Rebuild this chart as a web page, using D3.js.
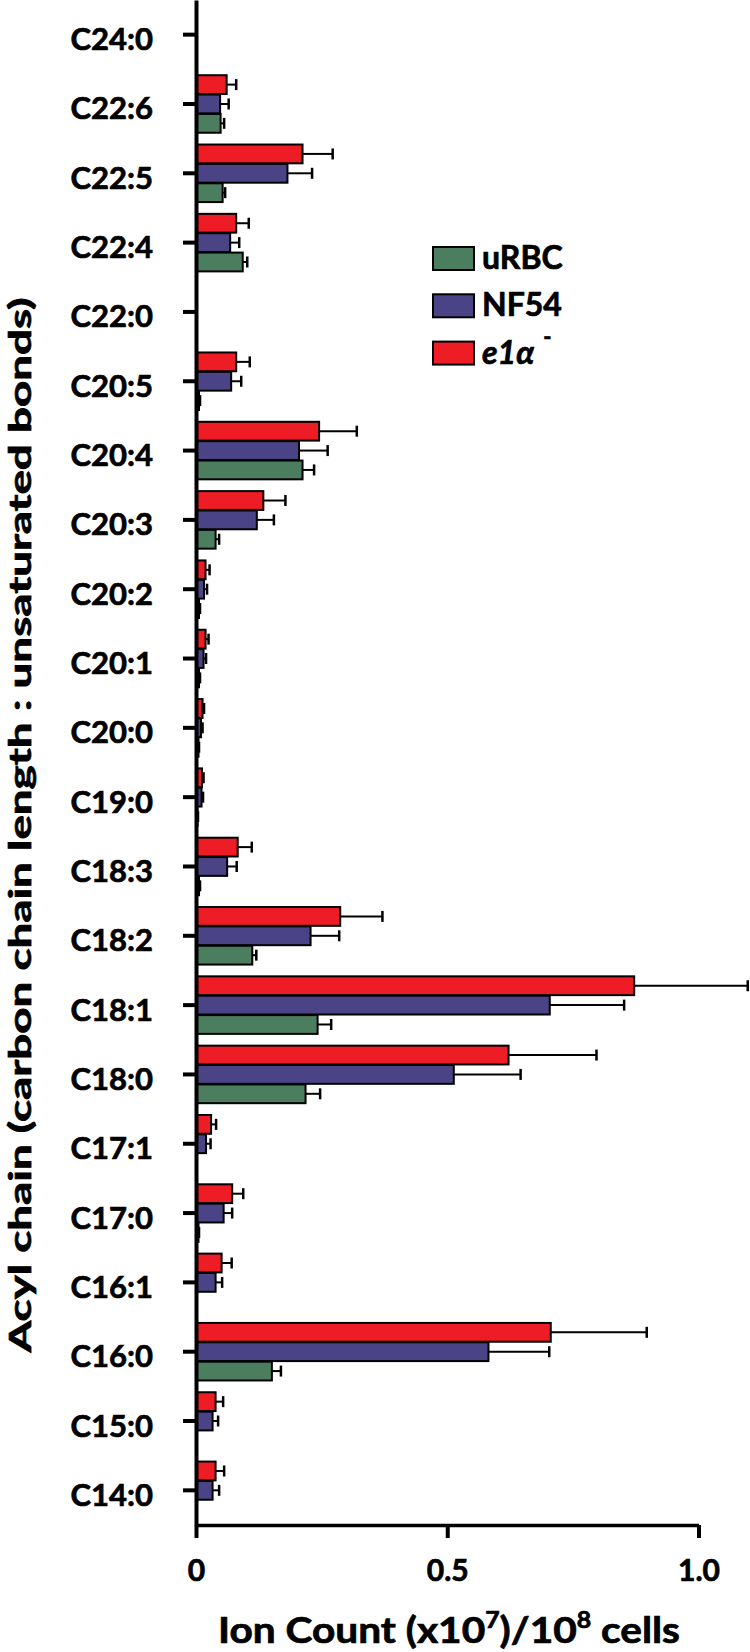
<!DOCTYPE html>
<html><head><meta charset="utf-8">
<script src="https://cdn.jsdelivr.net/npm/d3@7"></script>
<style>body{margin:0;background:#fff} text{font-family:Lato,"Open Sans",sans-serif;font-weight:700;fill:#000;stroke:#000;stroke-width:0.7px}</style>
</head><body>
<svg id="c" width="750" height="1652"></svg>
<script>
const categories = ["C24:0","C22:6","C22:5","C22:4","C22:0","C20:5","C20:4","C20:3","C20:2","C20:1","C20:0","C19:0","C18:3","C18:2","C18:1","C18:0","C17:1","C17:0","C16:1","C16:0","C15:0","C14:0"];
const seriesNames = ["uRBC","NF54","e1α"];
const uRBC    = [0.002,0.049,0.053,0.093,0,0.006,0.212,0.039,0.006,0.006,0.005,0.003,0.006,0.112,0.242,0.218,0.002,0.005,0,0.151,0,0];
const uRBCErr = [0,0.007,0.005,0.009,0,0.002,0.023,0.007,0.002,0.002,0.001,0.001,0.002,0.008,0.027,0.029,0,0.001,0,0.018,0,0];
const NF54    = [0.002,0.048,0.182,0.068,0,0.070,0.205,0.121,0.016,0.015,0.010,0.011,0.062,0.228,0.704,0.513,0.020,0.055,0.039,0.582,0.033,0.033];
const NF54Err = [0,0.017,0.049,0.018,0,0.020,0.057,0.034,0.006,0.005,0.003,0.003,0.019,0.057,0.148,0.133,0.009,0.017,0.013,0.121,0.011,0.013];
const e1a     = [0.002,0.061,0.212,0.080,0,0.080,0.245,0.134,0.019,0.019,0.013,0.012,0.083,0.287,0.872,0.622,0.030,0.072,0.051,0.706,0.039,0.039];
const e1aErr  = [0,0.019,0.060,0.025,0,0.027,0.075,0.044,0.008,0.006,0.003,0.003,0.028,0.084,0.226,0.175,0.010,0.022,0.020,0.191,0.015,0.017];
const xTicks = [0, 0.5, 1.0];
const xTickLabels = ["0","0.5","1.0"];
const colors = {"uRBC":"#4B7D5F","NF54":"#4A4486","e1α":"#EE1D25"};

const values = {"uRBC":uRBC,"NF54":NF54,"e1α":e1a};
const errs = {"uRBC":uRBCErr,"NF54":NF54Err,"e1α":e1aErr};
const barOrder = ["e1α","NF54","uRBC"];

const svg = d3.select("#c");
const x = d3.scaleLinear().domain([0,1]).range([196,698.5]);
const y = d3.scaleBand().domain(categories).range([0,1525]);
const groupH = y.bandwidth()*0.83;
const y1 = d3.scaleBand().domain(barOrder).range([0,groupH]).paddingInner(0.03);
const off = (y.bandwidth()-groupH)/2;

const data = [];
categories.forEach((c,i)=>barOrder.forEach(s=>data.push({c,s,v:values[s][i],e:errs[s][i]})));
const drawn = data.filter(d=>d.v>0);

const bars = svg.append("g");
const eb = bars.selectAll("g.err").data(drawn.filter(d=>d.e>0)).join("g").attr("class","err");
eb.append("line")
  .attr("x1",d=>x(d.v)).attr("x2",d=>x(d.v+d.e))
  .attr("y1",d=>y(d.c)+off+y1(d.s)+y1.bandwidth()/2)
  .attr("y2",d=>y(d.c)+off+y1(d.s)+y1.bandwidth()/2)
  .attr("stroke","#000").attr("stroke-width",2);
eb.append("line")
  .attr("x1",d=>x(d.v+d.e)).attr("x2",d=>x(d.v+d.e))
  .attr("y1",d=>y(d.c)+off+y1(d.s)+y1.bandwidth()/2-5.5)
  .attr("y2",d=>y(d.c)+off+y1(d.s)+y1.bandwidth()/2+5.5)
  .attr("stroke","#000").attr("stroke-width",2.5);
bars.selectAll("rect").data(drawn).join("rect")
  .attr("x",x(0))
  .attr("y",d=>y(d.c)+off+y1(d.s))
  .attr("width",d=>x(d.v)-x(0))
  .attr("height",y1.bandwidth())
  .attr("fill",d=>colors[d.s])
  .attr("stroke","#000").attr("stroke-width",2);

// y axis
const yAxis = svg.append("g").attr("transform",`translate(${x(0)},0)`)
  .call(d3.axisLeft(y).tickSize(13).tickSizeOuter(0).tickPadding(30));
yAxis.select(".domain").attr("stroke-width",4);
yAxis.selectAll(".tick line").attr("stroke-width",4);
yAxis.selectAll(".tick text").attr("font-size",31).attr("dy","0.5em")
  .style("font-family","Lato,'Open Sans',sans-serif").style("font-weight",700);

// x axis
const xAxis = svg.append("g").attr("transform",`translate(0,${y.range()[1]})`)
  .call(d3.axisBottom(x).tickValues(xTicks).tickSize(13).tickSizeOuter(0).tickPadding(22)
    .tickFormat((d,i)=>xTickLabels[i]));
xAxis.select(".domain").attr("stroke-width",3.5);
xAxis.selectAll(".tick line").attr("stroke-width",4);
xAxis.selectAll(".tick text").attr("font-size",30)
  .style("font-family","Lato,'Open Sans',sans-serif").style("font-weight",700);

function fitW(sel, target){
  const w = sel.node().getBBox().width;
  sel.attr("transform", sel.attr("transform")+` scale(${target/w},1)`);
}

// x title
const xt = svg.append("text").attr("transform","translate(449,1643)").attr("text-anchor","middle").attr("font-size",36);
xt.append("tspan").text("Ion Count (x10");
xt.append("tspan").attr("font-size",22).attr("dy",-15).text("7");
xt.append("tspan").attr("dy",15).text(")/10");
xt.append("tspan").attr("font-size",22).attr("dy",-15).text("8");
xt.append("tspan").attr("dy",15).text(" cells");
fitW(xt,462);

// y title
const yt = svg.append("text").attr("transform","translate(31,825) rotate(-90)").attr("text-anchor","middle").attr("font-size",30)
  .text("Acyl chain (carbon chain length : unsaturated bonds)");
fitW(yt,1057);

// legend
const ly = d3.scaleBand().domain(seriesNames).range([247,247+47.3*3]);
const lg = svg.append("g").selectAll("g").data(seriesNames).join("g")
  .attr("transform",d=>`translate(433,${ly(d)})`);
lg.append("rect").attr("width",41).attr("height",23).attr("fill",d=>colors[d]).attr("stroke","#000").attr("stroke-width",2);
lg.each(function(d){
  const t = d3.select(this).append("text").attr("x",49).attr("y",22).attr("font-size",32);
  if(d==="e1α"){
    t.append("tspan").attr("font-style","italic").text("e1α");
    t.append("tspan").attr("dx",9).attr("dy",-19).attr("font-size",22).text("-");
  } else t.text(d);
});
</script>
</body></html>
